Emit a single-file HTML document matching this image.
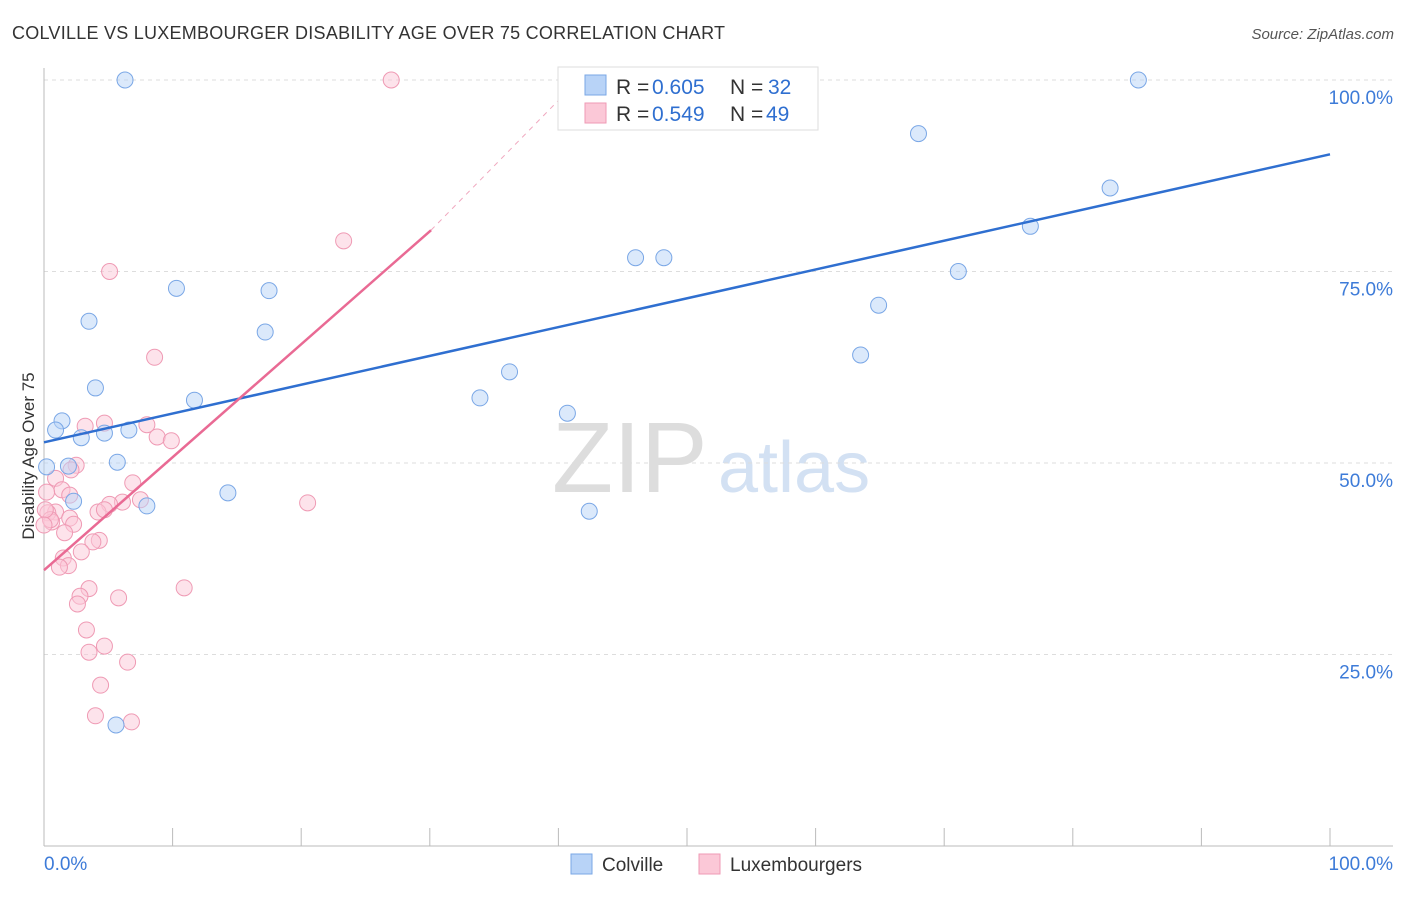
<!DOCTYPE html>
<html><head><meta charset="utf-8"><style>
body{margin:0;background:#fff;font-family:"Liberation Sans",sans-serif;}
svg text{font-family:"Liberation Sans",sans-serif;}
</style></head><body>
<svg id="chart" width="1406" height="892">
<text x="12" y="39" font-size="18" fill="#333" textLength="713">COLVILLE VS LUXEMBOURGER DISABILITY AGE OVER 75 CORRELATION CHART</text>
<text x="1394" y="39" font-size="15" fill="#555" font-style="italic" text-anchor="end">Source: ZipAtlas.com</text>
<text x="34" y="456" font-size="17" fill="#333" text-anchor="middle" transform="rotate(-90 34 456)">Disability Age Over 75</text>
<text x="552" y="492" font-size="100" fill="#ddd" font-family="Liberation Serif">ZIP</text>
<text x="718" y="492" font-size="72" fill="#d3e1f3">atlas</text>
<g id="grid"></g><g id="marks"></g>
<g>
<rect x="558" y="67" width="260" height="63" fill="#fff" stroke="#ddd"/>
<rect x="585" y="75" width="21" height="20" fill="#b8d3f7" stroke="#7aa7e6"/>
<rect x="585" y="103" width="21" height="20" fill="#fbc8d7" stroke="#ef9ab4"/>
<text x="616" y="94" font-size="21" fill="#333">R =</text>
<text x="652" y="94" font-size="21" fill="#2f6fd0">0.605</text>
<text x="730" y="94" font-size="21" fill="#333">N =</text>
<text x="768" y="94" font-size="21" fill="#2f6fd0">32</text>
<text x="616" y="121" font-size="21" fill="#333">R =</text>
<text x="652" y="121" font-size="21" fill="#2f6fd0">0.549</text>
<text x="730" y="121" font-size="21" fill="#333">N =</text>
<text x="766" y="121" font-size="21" fill="#2f6fd0">49</text>
</g>
<g>
<rect x="571" y="854" width="21" height="20" fill="#b8d3f7" stroke="#7aa7e6"/>
<text x="602" y="871" font-size="19" fill="#333">Colville</text>
<rect x="699" y="854" width="21" height="20" fill="#fbc8d7" stroke="#ef9ab4"/>
<text x="730" y="871" font-size="19" fill="#333">Luxembourgers</text>
</g>
</svg>
<script>
const blueX=[6.3,85.1,68.0,82.9,76.7,46.0,48.2,71.1,10.3,17.5,3.5,64.9,17.2,63.5,36.2,4.0,33.9,11.7,40.7,1.4,0.9,6.6,4.7,2.9,5.7,1.9,0.2,14.3,2.3,8.0,42.4,5.6];
const blueY=[100,100,93.0,85.9,80.9,76.8,76.8,75.0,72.8,72.5,68.5,70.6,67.1,64.1,61.9,59.8,58.5,58.2,56.5,55.5,54.3,54.3,53.9,53.3,50.1,49.6,49.5,46.1,45.0,44.4,43.7,15.8];
const pinkX=[27.0,23.3,5.1,8.6,3.2,4.7,8.0,8.8,9.9,2.5,2.1,0.9,1.4,6.9,0.2,2.0,7.5,6.1,5.1,20.5,4.2,4.7,0.9,0.3,2.0,0.6,2.3,1.6,4.3,3.8,2.9,1.5,1.9,1.2,3.5,10.9,5.8,2.8,2.6,3.3,4.7,3.5,6.5,4.4,4.0,6.8,0.5,0.1,0];
const pinkY=[100,79.0,75.0,63.8,54.8,55.2,55.0,53.4,52.9,49.7,49.1,48.0,46.5,47.4,46.2,45.8,45.2,44.9,44.6,44.8,43.6,43.9,43.6,43.5,42.8,42.3,42.0,40.9,39.9,39.7,38.4,37.6,36.6,36.4,33.6,33.7,32.4,32.6,31.6,28.2,26.1,25.3,24.0,21.0,17.0,16.2,42.6,43.9,41.9];
const yTicks=[25,50,75,100];
const blueTrend=[[0,52.7],[100,90.3]];
const pinkTrend=[[0,36.0],[30.1,80.4]];
const pinkDash=[[30.1,80.4],[40.1,97.5]];
const X=v=>44+v*12.86, Y=v=>846-v*7.66;
const NS="http://www.w3.org/2000/svg";
const g=document.getElementById('grid'), m=document.getElementById('marks');
function mk(t,a,p){const e=document.createElementNS(NS,t);for(const k in a)e.setAttribute(k,a[k]);p.appendChild(e);return e;}
yTicks.forEach(t=>{
 const l=mk('line',{x1:44,x2:1393,y1:Y(t),y2:Y(t),stroke:'#ddd','stroke-dasharray':'4,4'},g);
 
 
 const tx=mk('text',{x:1393,y:Y(t)+24,'font-size':19,fill:'#3d7bd8','text-anchor':'end'},g);
 tx.textContent=t.toFixed(1)+'%';
 
 
});
let ax=mk('line',{x1:44,x2:44,y1:68,y2:846,stroke:'#bbb'},g);


ax=mk('line',{x1:44,x2:1393,y1:846,y2:846,stroke:'#bbb'},g);


for(let i=0;i<=10;i++){const t=mk('line',{x1:X(i*10),x2:X(i*10),y1:828,y2:846,stroke:'#bbb'},g);
 
 }
[[0,'0.0%','start',44],[100,'100.0%','end',1393]].forEach(d=>{const t=mk('text',{x:d[3],y:870,'font-size':19,fill:'#3d7bd8','text-anchor':d[2]},g);t.textContent=d[1];
 
 });
function dots(xs,ys,f,s,n){xs.forEach((x,i)=>{const c=mk('circle',{cx:X(x),cy:Y(ys[i]),r:8,fill:f,'fill-opacity':0.5,stroke:s,'stroke-width':1},m);
 
 });}
dots(pinkX,pinkY,'#fbc8d7','#ef9ab4','luxembourger-point');
dots(blueX,blueY,'#b8d3f7','#7aa7e6','colville-point');
function ln(p,s,w,d,n){const l=mk('line',{x1:X(p[0][0]),y1:Y(p[0][1]),x2:X(p[1][0]),y2:Y(p[1][1]),stroke:s,'stroke-width':w},m);if(d)l.setAttribute('stroke-dasharray',d);
 
 }
ln(blueTrend,'#2f6fd0',2.5,null,'colville-trendline');
ln(pinkTrend,'#e96a94',2.5,null,'luxembourger-trendline');
ln(pinkDash,'#f0a8bf',1,'5,5','luxembourger-trend-extension');
</script>
</body></html>
